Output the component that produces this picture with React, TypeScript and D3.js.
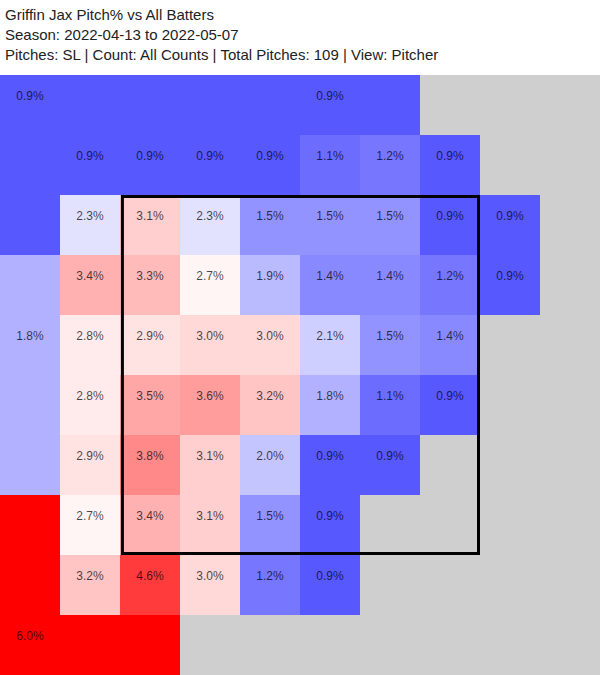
import React from "react";
import * as d3 from "d3";

const titleLines = [
  "Griffin Jax Pitch% vs All Batters",
  "Season: 2022-04-13 to 2022-05-07",
  "Pitches: SL | Count: All Counts | Total Pitches: 109 | View: Pitcher",
];

// Pitch% per grid cell (row 0 = top). null = no pitches (or part of an outer zone)
const cellValues: (number | null)[][] = [
  [null, null, null, null, null, null, null, null, null, null],
  [null, 0.9, 0.9, 0.9, 0.9, 1.1, 1.2, 0.9, null, null],
  [null, 2.3, 3.1, 2.3, 1.5, 1.5, 1.5, 0.9, 0.9, null],
  [null, 3.4, 3.3, 2.7, 1.9, 1.4, 1.4, 1.2, 0.9, null],
  [null, 2.8, 2.9, 3.0, 3.0, 2.1, 1.5, 1.4, null, null],
  [null, 2.8, 3.5, 3.6, 3.2, 1.8, 1.1, 0.9, null, null],
  [null, 2.9, 3.8, 3.1, 2.0, 0.9, 0.9, null, null, null],
  [null, 2.7, 3.4, 3.1, 1.5, 0.9, null, null, null, null],
  [null, 3.2, 4.6, 3.0, 1.2, 0.9, null, null, null, null],
  [null, null, null, null, null, null, null, null, null, null],
];

// Outer merged zones: value, member cells [row, col], and the cell holding the label
const zoneValues = [0.9, 0.9, 1.8, 6.0];
const zoneCells: [number, number][][] = [
  [[0, 0], [1, 0], [2, 0], [0, 1], [0, 2], [0, 3], [0, 4]],
  [[0, 5], [0, 6]],
  [[3, 0], [4, 0], [5, 0], [6, 0]],
  [[7, 0], [8, 0], [9, 0], [9, 1], [9, 2]],
];
const zoneLabelCells: [number, number][] = [[0, 0], [0, 5], [4, 0], [9, 0]];

// Strike zone in grid units
const strikeZone = { left: 2.04, right: 7.975, top: 2.025, bottom: 7.975 };

const W = 600;
const H = 675;
const gridTop = 75;
const nCols = 10;
const nRows = 10;

export default function App() {
  const idx = d3.range(nCols);
  const x = d3.scaleBand<number>().domain(idx).range([0, W]).padding(0);
  const y = d3.scaleBand<number>().domain(d3.range(nRows)).range([gridTop, H]).padding(0);
  const xLin = d3.scaleLinear().domain([0, nCols]).range([0, W]);
  const yLin = d3.scaleLinear().domain([0, nRows]).range([gridTop, H]);
  const color = d3
    .scaleLinear<string>()
    .domain([0, 2.6, 5.2])
    .range(["#0000ff", "#ffffff", "#ff0000"])
    .clamp(true);
  const fmt = (v: number) => d3.format(".1f")(v) + "%";
  const font = "Arial, 'Liberation Sans', sans-serif";
  const cw = x.bandwidth();
  const ch = y.bandwidth();

  const cells: { r: number; c: number; v: number }[] = [];
  cellValues.forEach((row, r) =>
    row.forEach((v, c) => {
      if (v != null) cells.push({ r, c, v });
    })
  );

  return (
    <svg
      width={W}
      height={H}
      style={{ position: "absolute", left: 0, top: 0, background: "#fff" }}
      fontFamily={font}
    >
      {titleLines.map((t, i) => (
        <text key={i} x={5} y={20 + i * 19.8} fontSize={15} fill="#222">
          {t}
        </text>
      ))}
      <rect x={0} y={gridTop} width={W} height={H - gridTop} fill="#cfcfcf" />
      <g shapeRendering="crispEdges">
        {cells.map((d) => (
          <rect key={`c${d.r}-${d.c}`} x={x(d.c)} y={y(d.r)} width={cw} height={ch} fill={color(d.v)} />
        ))}
        {zoneCells.map((zc, zi) =>
          zc.map(([r, c]) => (
            <rect key={`z${zi}-${r}-${c}`} x={x(c)} y={y(r)} width={cw} height={ch} fill={color(zoneValues[zi])} />
          ))
        )}
      </g>
      <g fontSize={12} textAnchor="middle" fill="#000" fillOpacity={0.72}>
        {cells.map((d) => (
          <text key={`t${d.r}-${d.c}`} x={(x(d.c) as number) + cw / 2} y={(y(d.r) as number) + 25}>
            {fmt(d.v)}
          </text>
        ))}
        {zoneLabelCells.map(([r, c], zi) => (
          <text key={`zt${zi}`} x={(x(c) as number) + cw / 2} y={(y(r) as number) + 25}>
            {fmt(zoneValues[zi])}
          </text>
        ))}
      </g>
      <rect
        x={xLin(strikeZone.left)}
        y={yLin(strikeZone.top)}
        width={xLin(strikeZone.right) - xLin(strikeZone.left)}
        height={yLin(strikeZone.bottom) - yLin(strikeZone.top)}
        fill="none"
        stroke="#000"
        strokeWidth={3}
      />
    </svg>
  );
}
